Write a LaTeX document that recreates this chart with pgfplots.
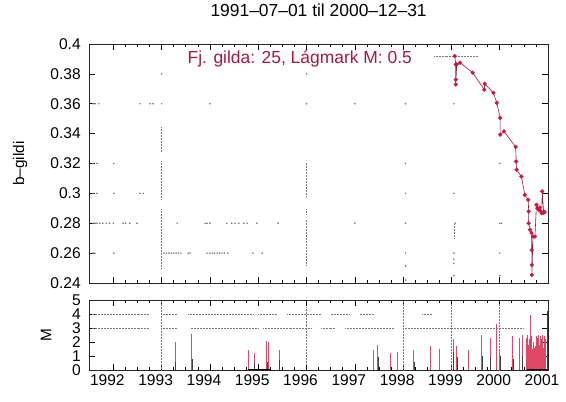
\documentclass[border=0pt]{standalone}
\usepackage{pgfplots}
\pgfplotsset{compat=1.18}
\usepackage{fontspec}
\setmainfont{Liberation Sans}
\definecolor{redtext}{RGB}{165,25,65}
\definecolor{redpts}{RGB}{205,25,65}
\definecolor{redline}{RGB}{140,30,55}
\definecolor{redimp}{RGB}{225,70,100}
\definecolor{dotgray}{RGB}{120,120,120}
\pgfplotsset{
  myaxis/.style={
    scale only axis,
    width=458.8bp,
    xmin=1991.5, xmax=2001.0,
    axis line style={line width=0.9bp, black!85},
    tick align=inside,
    major tick length=6bp,
    minor tick length=3bp,
    every tick/.style={black, line width=0.6bp},
    xtick={1992,1993,1994,1995,1996,1997,1998,1999,2000,2001},
    minor x tick num=3,
    tick label style={font=\fontsize{15.6}{16}\selectfont},
    /pgf/number format/assume math mode=true,
    /pgf/number format/1000 sep={},
    clip=true,
  }
}
\begin{document}
\begin{tikzpicture}
\path[use as bounding box] (0,0) rectangle (566bp,-402bp);
% ---------------- top axis ----------------
\begin{axis}[myaxis,
  at={(89.2bp,-283bp)}, anchor=south west,
  height=239bp,
  ymin=0.24, ymax=0.4,
  ytick={0.24,0.26,0.28,0.3,0.32,0.34,0.36,0.38,0.4},
  xticklabels={},
  yticklabel style={xshift=-5bp, inner ysep=0pt},
  ylabel={b--gildi},
  ylabel style={at={(axis description cs:-0.1504,0.5)}, anchor=center, font=\fontsize{15.4}{16}\selectfont},
  title={1991--07--01 til 2000--12--31},
  title style={at={(rel axis cs:0.5,1)}, anchor=center, yshift=27.5bp, font=\fontsize{17.5}{18}\selectfont},
]
% gray dotted columns
\addplot[dotgray, densely dotted, line width=0.5bp, unbounded coords=jump] coordinates {
(1993,0.250)(1993,0.290)(1993,nan)
(1993,0.296)(1993,0.322)(1993,nan)
(1993,0.328)(1993,0.345)(1993,nan)
(1996,0.252)(1996,0.283)(1996,nan)
(1996,0.286)(1996,0.290)(1996,nan)
(1996,0.298)(1996,0.321)(1996,nan)
(1999.05,0.270)(1999.05,0.280)(1999.05,nan)
(1998.64,0.392)(1999.55,0.392)
};
% gray dots
\addplot[only marks, mark=*, mark size=0.55bp, draw=dotgray, fill=dotgray] coordinates {
(1991.58,0.36)(1991.62,0.36)(1991.70,0.36)(1992.55,0.36)(1992.76,0.36)(1992.82,0.36)(1993.0,0.36)(1994.0,0.36)(1996.0,0.36)(1997.0,0.36)(1998.05,0.36)(1999.05,0.36)
(1993.0,0.38)(1996.0,0.38)
(1991.58,0.32)(1991.66,0.32)(1992.01,0.32)(1998.05,0.32)(2000.0,0.32)
(1991.58,0.30)(1991.66,0.30)(1992.01,0.30)(1992.55,0.30)(1992.62,0.30)(1998.05,0.30)(1999.05,0.30)
(1991.58,0.28)(1991.62,0.28)(1991.66,0.28)(1991.72,0.28)(1991.78,0.28)(1991.85,0.28)(1991.92,0.28)(1992.0,0.28)(1992.20,0.28)(1992.25,0.28)(1992.34,0.28)(1992.49,0.28)(1993.32,0.28)(1993.90,0.28)(1993.94,0.28)(1994.0,0.28)(1994.35,0.28)(1994.45,0.28)(1994.52,0.28)(1994.6,0.28)(1994.7,0.28)(1994.77,0.28)(1994.97,0.28)(1995.41,0.28)(1997.0,0.28)(1998.05,0.28)(1999.08,0.28)(2000.0,0.28)(2000.04,0.28)
(1991.58,0.26)(1991.62,0.26)(1992.01,0.26)(1993.05,0.26)(1993.1,0.26)(1993.15,0.26)(1993.2,0.26)(1993.25,0.26)(1993.3,0.26)(1993.35,0.26)(1993.4,0.26)(1993.55,0.26)(1993.59,0.26)(1993.94,0.26)(1994.0,0.26)(1994.05,0.26)(1994.1,0.26)(1994.15,0.26)(1994.2,0.26)(1994.25,0.26)(1994.3,0.26)(1994.37,0.26)(1994.89,0.26)(1995.08,0.26)(1998.05,0.26)(1999.05,0.26)(2000.0,0.26)
(1998.05,0.242)(1998.05,0.2514)(1999.05,0.245)(1999.05,0.253)(1999.05,0.256)(2000.0,0.245)
};
% red series
\addplot[redline, line width=0.6bp, mark=*, mark size=1.8bp, mark options={draw=redpts, fill=redpts}] coordinates {
(1999.07,0.3919)(1999.09,0.3863)(1999.09,0.3762)(1999.09,0.3729)(1999.11,0.3863)(1999.18,0.3875)
(1999.44,0.3808)(1999.68,0.3695)(1999.69,0.3733)(1999.87,0.3673)(1999.94,0.3606)
(2000.01,0.3505)(2000.01,0.3393)(2000.09,0.3415)(2000.33,0.3311)(2000.34,0.3214)(2000.35,0.3158)
(2000.45,0.3113)(2000.52,0.2990)(2000.59,0.2957)(2000.60,0.2879)(2000.60,0.2800)(2000.63,0.2756)
(2000.66,0.2734)(2000.665,0.2620)(2000.665,0.2521)(2000.665,0.2454)(2000.69,0.2711)(2000.73,0.2711)
(2000.76,0.2923)(2000.78,0.2900)(2000.81,0.2890)(2000.83,0.2905)(2000.85,0.2880)(2000.87,0.2868)
(2000.88,0.3013)(2000.91,0.2870)(2000.93,0.2875)
};
\node[anchor=west, text=redtext, font=\fontsize{17.5}{18}\selectfont] at (rel axis cs:0.207,0.937) {Fj. gilda: 25, Lágmark M: 0.5};
\end{axis}
% ---------------- bottom axis ----------------
\begin{axis}[myaxis,
  at={(89.2bp,-370bp)}, anchor=south west,
  height=70bp,
  ymin=0, ymax=5,
  ytick={0,1,2,3,4,5},
  yticklabel style={xshift=-5bp, inner ysep=0pt},
  xticklabel style={xshift=-6bp, yshift=-1bp},
  ylabel={M},
  ylabel style={at={(axis description cs:-0.0937,0.5)}, anchor=center, font=\fontsize{15.4}{16}\selectfont},
]
% gray dotted rows and columns
\addplot[dotgray, densely dotted, line width=0.5bp, unbounded coords=jump] coordinates {
(1991.55,4)(1992.75,4)(1992.75,nan)
(1993.02,4)(1993.3,4)(1993.3,nan)
(1993.55,4)(1994.9,4)(1994.9,nan)
(1995.0,4)(1995.4,4)(1995.4,nan)
(1995.6,4)(1996.3,4)(1996.3,nan)
(1996.5,4)(1996.9,4)(1996.9,nan)
(1997.1,4)(1997.4,4)(1997.4,nan)
(1998.4,4)(1998.6,4)(1998.6,nan)
(1991.55,3)(1992.75,3)(1992.75,nan)
(1993.02,3)(1993.3,3)(1993.3,nan)
(1993.6,3)(1995.0,3)(1995.0,nan)
(1995.1,3)(1996.1,3)(1996.1,nan)
(1996.3,3)(1996.6,3)(1996.6,nan)
(1996.8,3)(1997.8,3)(1997.8,nan)
(1998.0,3)(2000.5,3)(2000.5,nan)
(1993,0)(1993,5)(1993,nan)
(1996,0.4)(1996,4.5)(1996,nan)
(1998,0)(1998,5)(1998,nan)
(1999,0)(1999,4.8)(1999,nan)
(2000,0)(2000,4.8)
};
% red impulses
\addplot[ycomb, redimp, line width=0.8bp] coordinates {
(1993.28,2.0)(1993.62,2.6)(1994.79,1.43)(1994.92,1.2)(1995.16,2.1)(1995.22,2.0)(1995.43,1.4)
(1997.38,1.4)(1997.47,1.8)(1997.73,1.2)(1997.88,1.3)(1998.22,1.4)(1998.56,1.7)(1998.76,1.5)
(1999.04,2.2)(1999.11,1.7)(1999.35,1.4)(1999.63,2.5)(1999.80,2.3)(1999.94,3.3)(2000.00,1.5)
(2000.27,2.4)(2000.40,2.3)(2000.47,2.5)
(2000.55,2.3)(2000.57,2.5)(2000.59,1.8)(2000.61,2.2)(2000.63,3.9)(2000.65,2.4)(2000.67,1.5)
(2000.69,2.0)(2000.71,1.6)(2000.73,1.7)(2000.75,2.4)(2000.77,1.5)(2000.79,2.3)(2000.81,2.5)
(2000.83,1.8)(2000.85,2.4)(2000.87,2.2)(2000.89,2.5)(2000.91,1.6)(2000.93,2.4)(2000.95,2.2)
};
% dark impulses
\addplot[ycomb, black!75, line width=0.8bp] coordinates {
(1993.29,0.6)(1993.63,0.8)(1994.93,0.5)(1995.18,0.6)(1995.44,0.7)(1997.48,0.9)(1998.23,0.6)
(1999.05,1.3)(1999.12,0.9)(1999.64,1.0)(1999.81,0.9)(2000.01,1.0)(2000.28,0.8)(2000.48,1.0)
(2000.98,4.2)
};
% thick base segments
\addplot[black, line width=1.6bp, unbounded coords=jump] coordinates {
(1994.79,0.03)(1995.24,0.03)(1995.24,nan)(2000.57,0.03)(2000.98,0.03)
};
\end{axis}
\end{tikzpicture}
\end{document}
